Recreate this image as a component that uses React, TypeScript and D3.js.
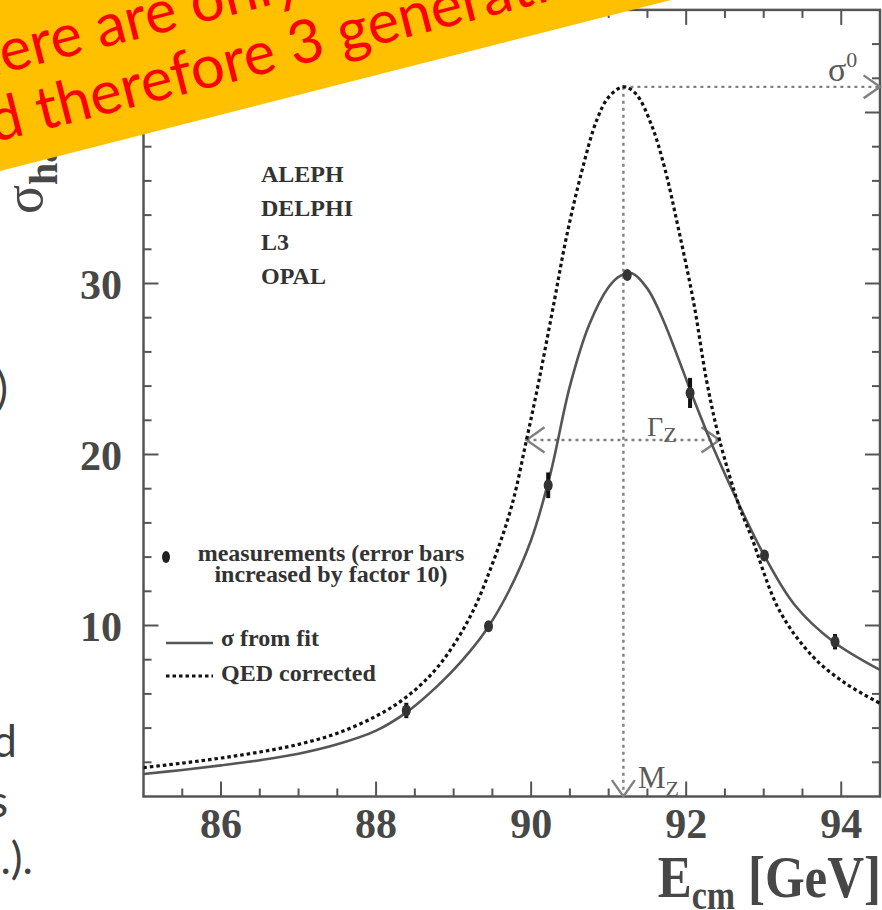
import React from 'react';
import * as d3 from 'd3';

const W = 882;
const H = 910;

// Combined LEP hadronic cross-section measurements (E in GeV, sigma in nb, error x10)
const measE = [88.39, 89.45, 90.22, 91.24, 92.05, 93.01, 93.92];
const measSigma = [5.03, 9.95, 18.2, 30.5, 23.6, 14.1, 9.05];
const measErr = [0.45, 0.3, 0.75, 0.2, 0.88, 0.25, 0.45];

// Fitted cross-section including initial-state radiation
const fitE = [85.0, 85.5, 86.0, 86.5, 87.0, 87.5, 88.0, 88.4, 88.8, 89.1, 89.4, 89.7, 90.0, 90.25, 90.5, 90.75, 91.0, 91.15, 91.3, 91.5, 91.7, 91.9, 92.1, 92.35, 92.7, 93.0, 93.4, 93.9, 94.5];
const fitSigma = [1.32, 1.55, 1.82, 2.12, 2.5, 3.05, 3.85, 4.95, 6.5, 7.9, 9.6, 11.9, 15.0, 18.9, 24.0, 27.6, 29.8, 30.45, 30.6, 29.7, 27.9, 25.6, 23.2, 20.4, 16.9, 14.15, 11.2, 9.05, 7.4];

// QED-deconvoluted (pure Z line shape) cross-section
const qedE = [85.0, 85.5, 86.0, 86.5, 87.0, 87.5, 88.0, 88.4, 88.8, 89.2, 89.5, 89.75, 89.94, 90.1, 90.3, 90.45, 90.65, 90.85, 91.0, 91.19, 91.35, 91.55, 91.72, 91.9, 92.1, 92.26, 92.43, 92.69, 92.84, 93.2, 93.63, 94.06, 94.5];
const qedSigma = [1.69, 1.95, 2.25, 2.6, 3.05, 3.7, 4.7, 5.85, 7.6, 10.4, 13.6, 17.0, 20.85, 24.3, 29.0, 32.6, 36.5, 39.6, 40.9, 41.5, 41.1, 39.3, 36.8, 33.2, 28.8, 24.4, 20.85, 16.9, 15.2, 10.9, 8.2, 6.6, 5.45];

// Line-shape parameters marked on the plot
const massZ = 91.19;
const sigma0 = 41.5;
const gammaLow = 89.94;
const gammaHigh = 92.43;
const halfMax = 20.85;

const xTickLabels = [86, 88, 90, 92, 94];
const yTickLabels = [10, 20, 30, 40];
const experiments = ['ALEPH', 'DELPHI', 'L3', 'OPAL'];

const bannerLines = ['There are only 3 light neutrinos', 'and therefore 3 generations'];
const slideFragments = [')', 'and', 'widths', 'etc.).'];

const SERIF = '"Liberation Serif", "DejaVu Serif", serif';
const SANS = 'Lato, "Open Sans", sans-serif';

function arrowHead(tx: number, ty: number, dx: number, dy: number, len = 20, ang = 35) {
  const a = (ang * Math.PI) / 180;
  const bx = -dx, by = -dy;
  const r1x = bx * Math.cos(a) - by * Math.sin(a);
  const r1y = bx * Math.sin(a) + by * Math.cos(a);
  const r2x = bx * Math.cos(-a) - by * Math.sin(-a);
  const r2y = bx * Math.sin(-a) + by * Math.cos(-a);
  return `${tx + r1x * len},${ty + r1y * len} ${tx},${ty} ${tx + r2x * len},${ty + r2y * len}`;
}

export default function App() {
  const x = d3.scaleLinear().domain([85, 94.5]).range([143.5, 880]);
  const y = d3.scaleLinear().domain([0, 46]).range([796.5, 9.9]);
  const [x0, x1] = x.range();
  const [y0, y1] = y.range();

  const line = d3
    .line<[number, number]>()
    .x((d) => x(d[0]))
    .y((d) => y(d[1]))
    .curve(d3.curveCatmullRom.alpha(0.5));

  const fitPath = line(fitE.map((e, i) => [e, fitSigma[i]] as [number, number])) || '';
  const qedPath = line(qedE.map((e, i) => [e, qedSigma[i]] as [number, number])) || '';

  const xTicks = d3.range(85.5, 94.5, 0.5);
  const yTicks = d3.range(2, 46, 2);
  const axisColor = '#555';
  const labelColor = '#474747';
  const annColor = '#808080';

  const mx = x(massZ);
  const peakY = y(sigma0);
  const gY = y(halfMax);

  return (
    <svg
      width={W}
      height={H}
      viewBox={`0 0 ${W} ${H}`}
      style={{ position: 'absolute', left: 0, top: 0, background: '#fff' }}
    >
      <defs>
        <clipPath id="plotArea">
          <rect x={x0} y={y1} width={x1 - x0} height={y0 - y1} />
        </clipPath>
      </defs>
      <rect x={0} y={0} width={W} height={H} fill="#fff" />

      {/* slide body text cut at the left edge */}
      <g fontFamily={SANS} fill="#404040" fontSize={44} textAnchor="end">
        <text x={8} y={404}>{slideFragments[0]}</text>
        <text x={17} y={757}>{slideFragments[1]}</text>
        <text x={8} y={817}>{slideFragments[2]}</text>
        <text x={33} y={874}>{slideFragments[3]}</text>
      </g>

      {/* frame */}
      <rect x={x0} y={y1} width={x1 - x0} height={y0 - y1} fill="none" stroke={axisColor} strokeWidth={2.5} />

      {/* x ticks, bottom and top */}
      {xTicks.map((t) => {
        const major = Math.abs(t % 2) < 1e-6;
        const len = major ? 15 : 8;
        return (
          <g key={`xt${t}`} stroke={axisColor} strokeWidth={2}>
            <line x1={x(t)} x2={x(t)} y1={y0} y2={y0 - len} />
            <line x1={x(t)} x2={x(t)} y1={y1} y2={y1 + len} />
          </g>
        );
      })}
      {/* y ticks, left and right */}
      {yTicks.map((t) => {
        const major = t % 10 === 0;
        const len = major ? 15 : 8;
        return (
          <g key={`yt${t}`} stroke={axisColor} strokeWidth={2}>
            <line x1={x0} x2={x0 + len} y1={y(t)} y2={y(t)} />
            <line x1={x1} x2={x1 - len} y1={y(t)} y2={y(t)} />
          </g>
        );
      })}

      {/* tick labels */}
      <g fontFamily={SERIF} fontWeight="bold" fontSize={42} fill={labelColor}>
        {xTickLabels.map((t) => (
          <text key={`xl${t}`} x={x(t)} y={838} textAnchor="middle">
            {t}
          </text>
        ))}
        {yTickLabels.map((t) => (
          <text key={`yl${t}`} x={122} y={y(t) + 15} textAnchor="end">
            {t}
          </text>
        ))}
      </g>

      {/* axis titles */}
      <g transform="translate(881,897) scale(0.85,1)" fontFamily={SERIF} fontWeight="bold" fill={labelColor}>
        <text textAnchor="end" fontSize={60}>
          E<tspan fontSize={40} dy={12}>cm</tspan>
          <tspan dy={-12}> [GeV]</tspan>
        </text>
      </g>
      <g transform="translate(42,214) rotate(-90)" fontFamily={SERIF} fill={labelColor}>
        <text fontSize={54}>
          σ<tspan fontSize={40} fontWeight="bold" dy={15}>had</tspan>
          <tspan fontWeight="bold" dy={-15}> [nb]</tspan>
        </text>
      </g>

      {/* line-shape annotations */}
      <g stroke={annColor} strokeWidth={2.4} fill="none">
        <line x1={mx} x2={mx} y1={peakY} y2={y0 - 2} strokeDasharray="3 4" />
        <line x1={mx} x2={x1 - 2} y1={peakY} y2={peakY} strokeDasharray="3 4" />
        <line x1={x(gammaLow)} x2={x(gammaHigh)} y1={gY} y2={gY} strokeDasharray="3 4" />
        <polyline points={arrowHead(mx, y0, 0, 1)} />
        <polyline points={arrowHead(x1, peakY, 1, 0)} />
        <polyline points={arrowHead(x(gammaLow), gY, -1, 0, 22)} />
        <polyline points={arrowHead(x(gammaHigh), gY, 1, 0, 22)} />
      </g>
      <g fontFamily={SERIF} fill="#5a5a5a">
        <text x={828} y={81} fontSize={34}>
          σ<tspan fontSize={22} dy={-14}>0</tspan>
        </text>
        <text x={638} y={788} fontSize={31}>
          M<tspan fontSize={22} dy={8}>Z</tspan>
        </text>
        <text x={647} y={436} fontSize={28}>
          Γ<tspan fontSize={22} dy={6}>Z</tspan>
        </text>
      </g>

      {/* curves */}
      <g clipPath="url(#plotArea)" fill="none">
        <path d={fitPath} stroke="#555" strokeWidth={2.6} />
        <path d={qedPath} stroke="#111" strokeWidth={3.2} strokeDasharray="3.5 3" />
      </g>

      {/* measurements */}
      <g>
        {measE.map((e, i) => (
          <g key={`m${i}`}>
            <line
              x1={x(e)}
              x2={x(e)}
              y1={y(measSigma[i] - measErr[i])}
              y2={y(measSigma[i] + measErr[i])}
              stroke="#111"
              strokeWidth={4}
            />
            <ellipse cx={x(e)} cy={y(measSigma[i])} rx={4.5} ry={6} fill="#333" />
          </g>
        ))}
      </g>

      {/* experiments */}
      <g fontFamily={SERIF} fontWeight="bold" fontSize={24} fill="#333">
        {experiments.map((name, i) => (
          <text key={name} x={261} y={182 + i * 34}>
            {name}
          </text>
        ))}
      </g>

      {/* legend */}
      <g fontFamily={SERIF} fontWeight="bold" fontSize={24} fill="#333">
        <ellipse cx={166} cy={557} rx={4} ry={6} fill="#222" />
        <text x={331} y={561} textAnchor="middle">measurements (error bars</text>
        <text x={331} y={582} textAnchor="middle">increased by factor 10)</text>
        <line x1={166} x2={213} y1={643} y2={643} stroke="#555" strokeWidth={2.6} />
        <text x={221} y={646}>σ from fit</text>
        <line x1={166} x2={213} y1={676} y2={676} stroke="#111" strokeWidth={3.2} strokeDasharray="3.5 3" />
        <text x={221} y={681}>QED corrected</text>
      </g>

      {/* highlighted statement banner */}
      <g transform="translate(0,171) rotate(-14.3)">
        <rect x={-200} y={-400} width={1400} height={400} fill="#FFC000" />
        <g fontFamily={SANS} fontSize={60} fill="#FF0000">
          <text x={-40} y={-94}>{bannerLines[0]}</text>
          <text x={-62} y={-29}>{bannerLines[1]}</text>
        </g>
      </g>
    </svg>
  );
}
